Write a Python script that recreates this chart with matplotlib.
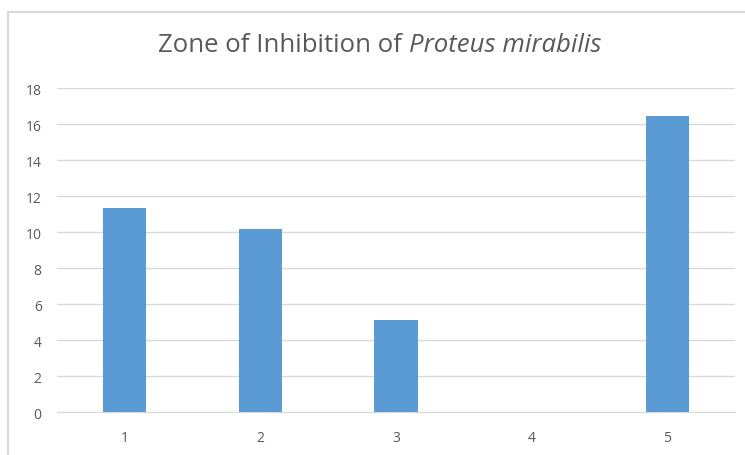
import matplotlib
matplotlib.use("Agg")
import matplotlib.pyplot as plt
from matplotlib.patches import Rectangle

# Zone of inhibition (mm) per sample
categories = ["1", "2", "3", "4", "5"]
zone_values = [11.35, 10.2, 5.1, 0, 16.45]
y_ticks = [0, 2, 4, 6, 8, 10, 12, 14, 16, 18]

plt.rcParams["font.family"] = ["Open Sans", "DejaVu Sans"]

fig = plt.figure(figsize=(7.45, 4.56), dpi=100)
ax = fig.add_axes((57 / 745, 1 - 413.3 / 456, 678 / 745, (413.3 - 89) / 456))

# chart area border (cropped on the right and bottom like the reference)
fig.patches.append(Rectangle((8 / 745, -0.1), 1.2, 1 - 12.5 / 456 + 0.1,
                             transform=fig.transFigure, fill=False,
                             edgecolor="#d9d9d9", linewidth=1.5))

x = range(len(categories))
ax.bar(x, zone_values, width=0.32, color="#5b9bd5", zorder=3)

ax.set_xlim(-0.5, len(categories) - 0.5)
ax.set_ylim(0, 18)
ax.set_yticks(y_ticks)
ax.set_xticks(list(x))
ax.set_xticklabels(categories)
ax.grid(axis="y", color="#d9d9d9", linewidth=1.0, zorder=0)
for side in ["top", "right", "left"]:
    ax.spines[side].set_visible(False)
ax.spines["bottom"].set_color("#d9d9d9")
ax.tick_params(length=0, colors="#595959", labelsize=10)
ax.tick_params(axis="y", pad=11)
ax.tick_params(axis="x", pad=13)

# title with italic species name
tx, ty = 409 / 745, 1 - 46 / 456
fig.text(tx, ty, "Zone of Inhibition of ", ha="right", va="center",
         fontsize=18.5, color="#595959")
fig.text(tx, ty, "Proteus mirabilis", ha="left", va="center",
         fontsize=18.5, color="#595959", style="italic")

fig.savefig("out.png", dpi=100)
